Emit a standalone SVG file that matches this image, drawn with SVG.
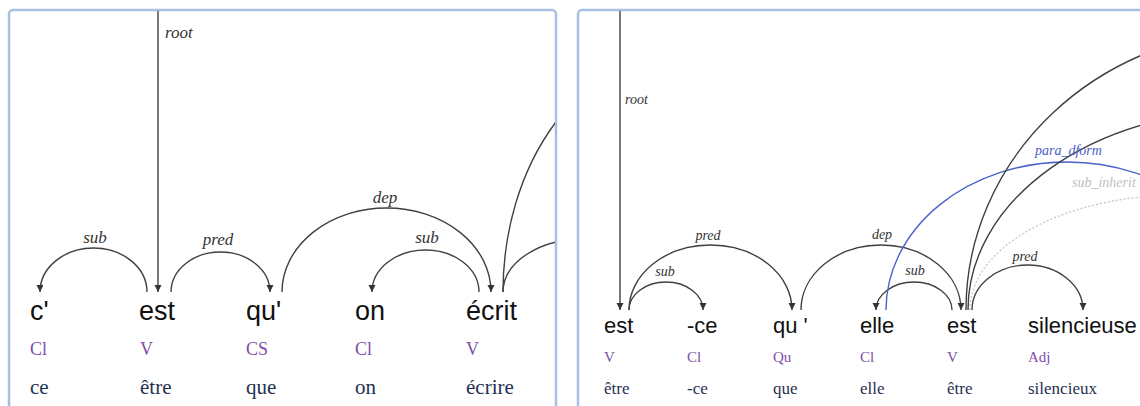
<svg xmlns="http://www.w3.org/2000/svg" width="1140" height="406" viewBox="0 0 1140 406">
<style>
.panel{fill:#fff;stroke:#a7c0e2;stroke-width:2.5}
.arc{fill:none;stroke:#404040;stroke-width:1.4}
.w1{font-family:"Liberation Sans",Arial,sans-serif;font-size:27px;fill:#111}
.w2{font-family:"Liberation Sans",Arial,sans-serif;font-size:22px;fill:#111}
.p1{font-family:"Liberation Serif","Times New Roman",serif;font-size:18px;fill:#7d4ea8}
.p2{font-family:"Liberation Serif","Times New Roman",serif;font-size:15px;fill:#7d4ea8}
.l1{font-family:"Liberation Serif","Times New Roman",serif;font-size:21px;fill:#1f3152}
.l2{font-family:"Liberation Serif","Times New Roman",serif;font-size:17px;fill:#1f3152}
.lb1{font-family:"Liberation Serif","Times New Roman",serif;font-style:italic;font-size:17px;fill:#333;text-anchor:middle}
.lb2{font-family:"Liberation Serif","Times New Roman",serif;font-style:italic;font-size:14px;fill:#333;text-anchor:middle}
</style>
<defs>
<marker id="ah" markerUnits="userSpaceOnUse" markerWidth="8" markerHeight="8" refX="7" refY="3.5" orient="auto">
<path d="M0,0 L7,3.5 L0,7 z" fill="#333"/>
</marker>
<clipPath id="cL"><rect x="10" y="11" width="545" height="400"/></clipPath>
<clipPath id="cR"><rect x="579" y="11" width="570" height="400"/></clipPath>
</defs>
<rect width="1140" height="406" fill="#fff"/>
<rect class="panel" x="9" y="10" width="547" height="420" rx="4"/>
<rect class="panel" x="578" y="10" width="600" height="420" rx="4"/>

<g id="connectors-left" clip-path="url(#cL)">
<path class="arc" d="M158,10 L158,292" marker-end="url(#ah)"/>
<path class="arc" d="M147,292 A53.5,44 0 0 0 40,292" marker-end="url(#ah)"/>
<path class="arc" d="M171,292 A49.5,40 0 0 1 270,292" marker-end="url(#ah)"/>
<path class="arc" d="M282,292 A104.5,84 0 0 1 491,292" marker-end="url(#ah)"/>
<path class="arc" d="M479,292 A53.5,42 0 0 0 372,292" marker-end="url(#ah)"/>
<path class="arc" d="M503,292 A180,240 0 0 1 863,292"/>
<path class="arc" d="M503,292 A80,53 0 0 1 663,292"/>
<text x="165" y="38" class="lb1" style="text-anchor:start">root</text>
<text x="95" y="243" class="lb1">sub</text>
<text x="218" y="245" class="lb1">pred</text>
<text x="385" y="203" class="lb1">dep</text>
<text x="427" y="243" class="lb1">sub</text>
</g>

<g id="connectors-right" clip-path="url(#cR)">
<path class="arc" d="M620,10 L620,310" marker-end="url(#ah)"/>
<path class="arc" d="M629,310 A37,28 0 0 1 703,310" marker-end="url(#ah)"/>
<path class="arc" d="M629,310 A81.5,65 0 0 1 792,310" marker-end="url(#ah)"/>
<path class="arc" d="M801,310 A80,65 0 0 1 961,310" marker-end="url(#ah)"/>
<path class="arc" d="M952,310 A38,28 0 0 0 876,310" marker-end="url(#ah)"/>
<path class="arc" d="M972,310 A55.5,45 0 0 1 1083,310" marker-end="url(#ah)"/>
<path fill="none" stroke="#c4c4c4" stroke-width="1.3" stroke-dasharray="2,2" d="M970,310 A210,115 0 0 1 1390,310"/>
<path fill="none" stroke="#4a62c9" stroke-width="1.4" d="M886,310 A181,148 0 0 1 1248,310"/>
<path class="arc" d="M966,310 A300,280 0 0 1 1566,310"/>
<path class="arc" d="M968,310 A280,200 0 0 1 1528,310"/>
<text x="625" y="104" class="lb2" style="text-anchor:start">root</text>
<text x="665" y="276" class="lb2">sub</text>
<text x="708" y="240" class="lb2">pred</text>
<text x="882" y="239" class="lb2">dep</text>
<text x="915" y="275" class="lb2">sub</text>
<text x="1025" y="261" class="lb2">pred</text>
<text x="1035" y="155" class="lb2" style="text-anchor:start;fill:#4a62c9">para_dform</text>
<text x="1072" y="187" class="lb2" style="text-anchor:start;fill:#c0c0c0">sub_inherit</text>
</g>

<g id="n-c"><text class="w1" x="30" y="320">c'</text><text class="p1" x="30" y="355">Cl</text><text class="l1" x="30" y="394">ce</text></g>
<g id="n-est1"><text class="w1" x="139" y="320">est</text><text class="p1" x="140" y="355">V</text><text class="l1" x="140" y="394">être</text></g>
<g id="n-qu1"><text class="w1" x="246" y="320">qu'</text><text class="p1" x="246" y="355">CS</text><text class="l1" x="246" y="394">que</text></g>
<g id="n-on"><text class="w1" x="355" y="320">on</text><text class="p1" x="355" y="355">Cl</text><text class="l1" x="355" y="394">on</text></g>
<g id="n-ecrit"><text class="w1" x="466" y="320">écrit</text><text class="p1" x="466" y="355">V</text><text class="l1" x="466" y="394">écrire</text></g>

<g id="n-est2"><text class="w2" x="604" y="333">est</text><text class="p2" x="604" y="362">V</text><text class="l2" x="604" y="394">être</text></g>
<g id="n-ce"><text class="w2" x="687" y="333">-ce</text><text class="p2" x="687" y="362">Cl</text><text class="l2" x="687" y="394">-ce</text></g>
<g id="n-qu2"><text class="w2" x="773" y="333">qu '</text><text class="p2" x="773" y="362">Qu</text><text class="l2" x="773" y="394">que</text></g>
<g id="n-elle"><text class="w2" x="860" y="333">elle</text><text class="p2" x="860" y="362">Cl</text><text class="l2" x="860" y="394">elle</text></g>
<g id="n-est3"><text class="w2" x="947" y="333">est</text><text class="p2" x="947" y="362">V</text><text class="l2" x="947" y="394">être</text></g>
<g id="n-sil"><text class="w2" x="1028" y="333">silencieuse</text><text class="p2" x="1028" y="362">Adj</text><text class="l2" x="1028" y="394">silencieux</text></g>
</svg>
